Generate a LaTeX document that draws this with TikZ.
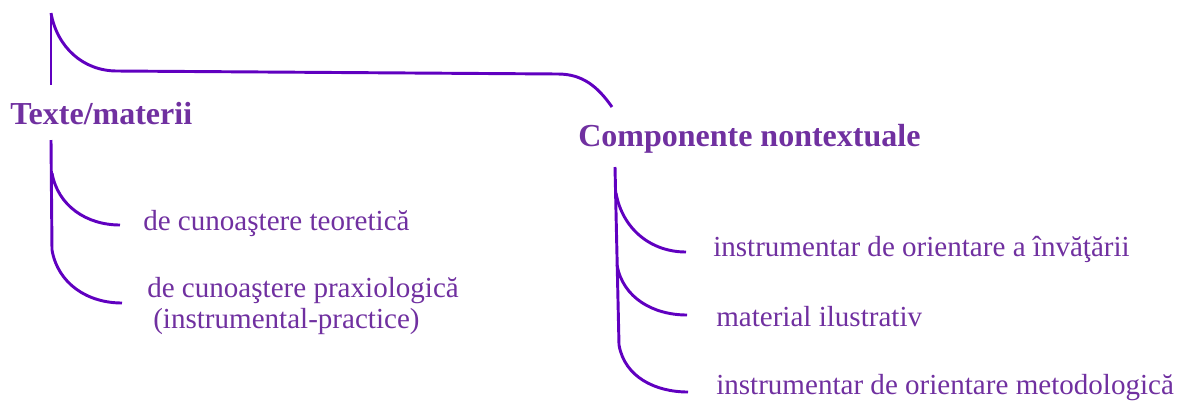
\documentclass[tikz,border=0pt]{standalone}
\usepackage{fontspec}
\setmainfont{Liberation Serif}
\definecolor{textpurple}{RGB}{112,48,160}
\definecolor{linepurple}{RGB}{96,0,192}
\begin{document}
\begin{tikzpicture}[x=0.75pt,y=-0.75pt]
    \tikzstyle{branch}=[draw=linepurple,line width=2.2pt]
    \tikzstyle{twig}=[branch,out=-80,in=180]
    \tikzstyle{title}=[text=textpurple,font=\fontsize{24}{28}\selectfont\bfseries,inner sep=0pt,anchor=base west]
    \tikzstyle{item}=[text=textpurple,font=\fontsize{21.8}{26}\selectfont,inner sep=0pt,anchor=base west]

    \useasboundingbox (0,0) rectangle (1181,401);

    % headings
    \node[title] at (10,124) (texte) {Texte/materii};
    \node[title] at (578,146) (comp) {Componente nontextuale};

    % items
    \node[item] at (143,230) (teor) {de cunoaştere teoretică};
    \node[item] at (147,297) (prax) {de cunoaştere praxiologică};
    \node[item] at (153,328) (praxnote) {(instrumental-practice)};
    \node[item] at (713,256) (invat) {instrumentar de orientare a învăţării};
    \node[item] at (716,326) (ilustr) {material ilustrativ};
    \node[item] at (716,394) (metod) {instrumentar de orientare metodologică};

    % top bracket
    \coordinate (root) at (51,13);
    \coordinate (rootfoot) at (51,85);
    \coordinate (barstart) at (117,71);
    \coordinate (barend) at (558,74);
    \coordinate (drop) at (612,107);
    \draw[branch] (root) -- (rootfoot);
    \draw[branch] (root) to[out=-80,in=180] (barstart) -- (barend) to[out=0,in=125] (drop);

    % left tree
    \coordinate (ltop) at (51,140);
    \coordinate (lfoot) at (52,250);
    \coordinate (lbr1) at (52,173);
    \coordinate (lend1) at (120,225);
    \coordinate (lend2) at (122,303);
    \draw[branch] (ltop) -- (lfoot);
    \draw (lbr1) edge[twig] (lend1);
    \draw (lfoot) edge[twig] (lend2);

    % right tree
    \coordinate (rtop) at (615,167);
    \coordinate (rfoot) at (619,345);
    \coordinate (rbr1) at (616,193);
    \coordinate (rbr2) at (617,265);
    \coordinate (rend1) at (686,252);
    \coordinate (rend2) at (687,315);
    \coordinate (rend3) at (688,392);
    \draw[branch] (rtop) -- (rfoot);
    \draw (rbr1) edge[twig] (rend1);
    \draw (rbr2) edge[twig] (rend2);
    \draw (rfoot) edge[twig] (rend3);
\end{tikzpicture}
\end{document}
